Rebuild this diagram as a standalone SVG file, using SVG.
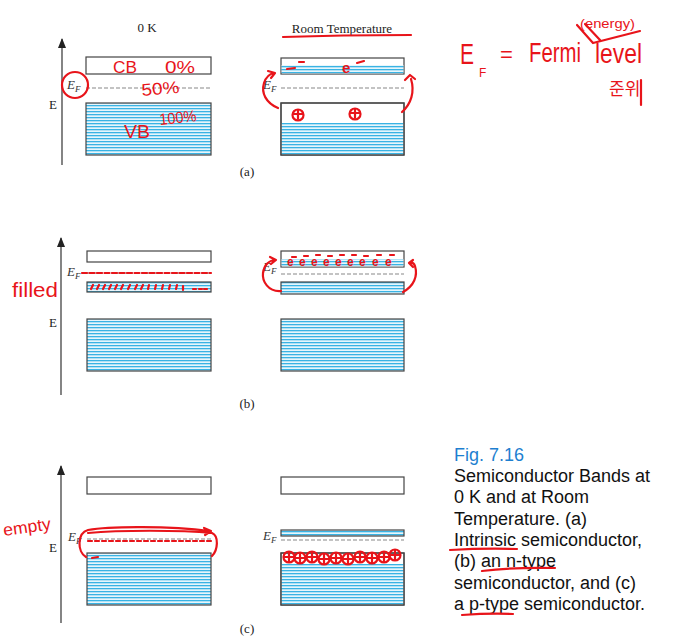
<svg xmlns="http://www.w3.org/2000/svg" width="673" height="640" viewBox="0 0 673 640">
<style>
.band{stroke:#444;stroke-width:1.2}
.empty{fill:#fff}
.fill{fill:url(#stripes)}
.ef{stroke:#888;stroke-width:1.2;stroke-dasharray:4 2;fill:none}
.axis{stroke:#333;stroke-width:1.2;fill:none}
.lbl{font-family:"Liberation Serif",serif;font-size:13px;fill:#222}
.efl{font-family:"Liberation Serif",serif;font-size:13px;font-style:italic;fill:#333}
.cap{font-family:"Liberation Sans","Noto Sans CJK KR",sans-serif;font-size:18px;fill:#111}
.red{stroke:#e8141a;stroke-width:2.2;fill:none;stroke-linecap:round;stroke-linejoin:round}
.hw{font-family:"Liberation Sans","Noto Sans CJK KR",sans-serif;fill:#e8141a}
</style>
<defs>
<pattern id="stripes" patternUnits="userSpaceOnUse" width="6" height="3">
<rect width="6" height="3" fill="#e6f6fc"/>
<rect y="0" width="6" height="1.3" fill="#39b3e4"/>
</pattern>
<marker id="up" viewBox="0 0 10 8" refX="9" refY="4" markerWidth="10" markerHeight="8" markerUnits="userSpaceOnUse" orient="auto">
<path d="M0 0 L10 4 L0 8 Z" fill="#222"/>
</marker>
</defs>
<rect width="673" height="640" fill="#fff"/>

<!-- Panel (a) -->
<g id="a-0K">
<text class="lbl" x="147" y="32" text-anchor="middle">0 K</text>
<path class="axis" d="M62 165 V39" marker-end="url(#up)"/>
<text class="lbl" x="53" y="109" text-anchor="middle">E</text>
<rect class="band empty" x="86" y="57" width="125" height="17"/>
<line class="ef" x1="86" y1="88" x2="211" y2="88"/>
<text class="efl" x="67" y="89">E<tspan font-size="9" dy="3">F</tspan></text>
<rect class="band fill" x="86" y="103" width="125" height="52"/>
</g>
<g id="a-RT">
<text class="lbl" x="342" y="33" text-anchor="middle">Room Temperature</text>
<rect class="band empty" x="281" y="58" width="123" height="16"/>
<rect x="281.6" y="65" width="121.8" height="8.4" fill="url(#stripes)"/>
<line class="ef" x1="281" y1="88" x2="404" y2="88"/>
<text class="efl" x="263" y="89">E<tspan font-size="9" dy="3">F</tspan></text>
<rect class="band empty" x="281" y="103" width="123" height="52"/>
<rect x="281.6" y="123" width="121.8" height="31.4" fill="url(#stripes)"/>
<rect class="band" x="281" y="103" width="123" height="52" fill="none"/>
</g>
<text class="lbl" x="247" y="176" text-anchor="middle" font-size="11">(a)</text>

<!-- Panel (b) -->
<g id="b-0K">
<path class="axis" d="M61 395 V238" marker-end="url(#up)"/>
<text class="lbl" x="53" y="327" text-anchor="middle">E</text>
<rect class="band empty" x="87" y="251" width="124" height="11"/>
<line class="ef" x1="87" y1="273" x2="211" y2="273"/>
<text class="efl" x="67" y="276">E<tspan font-size="9" dy="3">F</tspan></text>
<rect class="band fill" x="87" y="282" width="124" height="10"/>
<rect class="band fill" x="87" y="319" width="124" height="52"/>
</g>
<g id="b-RT">
<rect class="band empty" x="281" y="251" width="123" height="16"/>
<rect x="281.6" y="259" width="121.8" height="7.4" fill="url(#stripes)"/>
<line class="ef" x1="281" y1="274" x2="404" y2="274"/>
<text class="efl" x="263" y="271">E<tspan font-size="9" dy="3">F</tspan></text>
<rect class="band fill" x="281" y="282" width="123" height="12"/>
<rect class="band fill" x="281" y="319" width="123" height="52"/>
</g>
<text class="lbl" x="247" y="408" text-anchor="middle" font-size="11">(b)</text>

<!-- Panel (c) -->
<g id="c-0K">
<path class="axis" d="M61 623 V466" marker-end="url(#up)"/>
<text class="lbl" x="53" y="552" text-anchor="middle">E</text>
<rect class="band empty" x="87" y="477" width="124" height="17"/>
<line class="ef" x1="87" y1="539" x2="211" y2="539"/>
<text class="efl" x="68" y="541">E<tspan font-size="9" dy="3">F</tspan></text>
<rect class="band fill" x="87" y="553" width="124" height="52"/>
</g>
<g id="c-RT">
<rect class="band empty" x="281" y="477" width="123" height="17"/>
<rect class="band fill" x="281" y="530" width="123" height="6"/>
<line class="ef" x1="281" y1="540" x2="404" y2="540"/>
<text class="efl" x="263" y="540">E<tspan font-size="9" dy="3">F</tspan></text>
<rect class="band empty" x="281" y="553" width="123" height="52"/>
<rect x="281.6" y="564" width="121.8" height="40.4" fill="url(#stripes)"/>
<rect class="band" x="281" y="553" width="123" height="52" fill="none"/>
</g>
<text class="lbl" x="247" y="633" text-anchor="middle" font-size="11">(c)</text>

<!-- Caption -->
<g id="caption">
<text class="cap" x="454" y="461" style="fill:#1e7fd0">Fig. 7.16</text>
<text class="cap" x="454" y="482">Semiconductor Bands at</text>
<text class="cap" x="454" y="503">0 K and at Room</text>
<text class="cap" x="454" y="525">Temperature. (a)</text>
<text class="cap" x="454" y="546">Intrinsic semiconductor,</text>
<text class="cap" x="454" y="567">(b) an n-type</text>
<text class="cap" x="454" y="589">semiconductor, and (c)</text>
<text class="cap" x="454" y="610">a p-type semiconductor.</text>
</g>

<!-- Handwritten annotations -->
<g id="annotations">
<ellipse class="red" cx="75" cy="85" rx="13" ry="13"/>
<text class="hw" x="113" y="73" font-size="17" textLength="24" lengthAdjust="spacingAndGlyphs">CB</text>
<text class="hw" x="165" y="73" font-size="17" textLength="30" lengthAdjust="spacingAndGlyphs">0%</text>
<text class="hw" x="142" y="96" font-size="17" textLength="38" lengthAdjust="spacingAndGlyphs" transform="rotate(-5 142 96)">50%</text>
<text class="hw" x="124" y="138" font-size="19" textLength="26" lengthAdjust="spacingAndGlyphs">VB</text>
<text class="hw" x="160" y="125" font-size="16" textLength="37" lengthAdjust="spacingAndGlyphs" transform="rotate(-6 160 125)">100%</text>
<path class="red" d="M283 37 Q340 35 411 35"/>
<path class="red" d="M287 69 L295 68 M299 62 L304 62 M357 63 L364 61"/>
<text class="hw" x="342" y="73" font-size="15" font-weight="bold">e</text>
<circle class="red" cx="298" cy="115" r="5.5"/><path class="red" d="M293 114 H303 M298 110 V119" stroke-width="1.6"/>
<circle class="red" cx="355" cy="114" r="5.5"/><path class="red" d="M350 113 H360 M355 109 V118" stroke-width="1.6"/>

<text class="hw" x="12" y="297" font-size="21" textLength="46" lengthAdjust="spacingAndGlyphs">filled</text>
<path class="red" d="M82 273 H211" stroke-dasharray="5 2.5" stroke-width="1.8"/>
<path class="red" stroke-width="1.8" d="M91 289 l2 -4 M97 289 l2 -4 M103 289 l2 -4 M109 289 l2 -4 M115 289 l2 -4 M121 289 l2 -4 M128 289 l2 -4 M135 289 l2 -4 M141 289 l2 -4 M148 289 l1 -4 M155 289 l1 -4 M162 289 l1 -4 M169 289 l1 -4 M176 289 l1 -4 M183 290 l0 -4 M193 289 h3 M199 289 h3 M204 289 h3"/>
<g class="hw" font-size="12" font-weight="bold">
<text x="287" y="266">e</text><text x="299" y="266">e</text><text x="311" y="266">e</text><text x="323" y="266">e</text><text x="335" y="266">e</text><text x="347" y="266">e</text><text x="359" y="266">e</text><text x="372" y="266">e</text><text x="385" y="266">e</text>
</g>
<path class="red" stroke-width="1.5" d="M292 257 h4 M304 256 h4 M316 255 h4 M328 256 h4 M340 255 h4 M352 255 h4 M364 256 h4 M377 255 h4 M390 255 h4"/>

<text class="hw" x="4" y="536" font-size="17" textLength="48" lengthAdjust="spacingAndGlyphs" transform="rotate(-8 4 536)">empty</text>
<path class="red" stroke-width="1.6" d="M88 541 H211" stroke-dasharray="4 3"/>
<path class="red" d="M92 558 L98 557"/>
<circle class="red" cx="289" cy="557" r="5.5"/><circle class="red" cx="300" cy="558" r="5.5"/><circle class="red" cx="312" cy="557" r="5.5"/><circle class="red" cx="324" cy="559" r="5.5"/><circle class="red" cx="336" cy="558" r="5.5"/><circle class="red" cx="348" cy="559" r="5.5"/><circle class="red" cx="360" cy="557" r="5.5"/><circle class="red" cx="372" cy="558" r="5.5"/><circle class="red" cx="384" cy="557" r="5.5"/><circle class="red" cx="395" cy="555" r="5.5"/>
<path class="red" stroke-width="1.4" d="M284 557 h10 M295 558 h10 M307 557 h10 M319 559 h10 M331 558 h10 M343 559 h10 M355 557 h10 M367 558 h10 M379 557 h10 M390 555 h10 M289 552 v10 M300 553 v10 M312 552 v10 M324 554 v10 M336 553 v10 M348 554 v10 M360 552 v10 M372 553 v10 M384 552 v10 M395 550 v10"/>

<text class="hw" x="460" y="64" font-size="30" textLength="14" lengthAdjust="spacingAndGlyphs">E</text>
<text class="hw" x="479" y="77" font-size="12">F</text>
<text class="hw" x="500" y="62" font-size="22">=</text>
<text class="hw" x="529" y="62" font-size="28" textLength="52" lengthAdjust="spacingAndGlyphs">Fermi</text>
<text class="hw" x="595" y="63" font-size="28" textLength="47" lengthAdjust="spacingAndGlyphs">level</text>
<text class="hw" x="580" y="28" font-size="13" textLength="55" lengthAdjust="spacingAndGlyphs">(energy)</text>
<text class="hw" x="609" y="95" font-size="17">준위</text>
</g>

<g id="connectors">
<path class="red" d="M278 108 C266 103 261 93 264 83 C266 77 269 74 274 73 M268 71 L275 73 L271 78"/>
<path class="red" d="M402 112 C411 104 415 92 411 79 M405 80 L410 75 L415 79"/>
<path class="red" d="M281 291 C268 292 262 281 263 273 C264 265 269 260 276 260 M270 257 L276 260 L271 264"/>
<path class="red" d="M403 292 C414 286 418 276 415 266 C414 263 412 262 409 263 M413 260 L409 263 L413 267"/>
<path class="red" d="M210 531 C170 526 110 526 88 530 C77 533 77 552 86 557 M88 533 C120 530 180 530 212 533 C219 536 218 550 212 556 M204 528 L211 531 L205 535"/>
<path class="red" d="M450 550 Q485 548 517 549 M482 571 Q515 567 555 568 M462 615 Q490 613 513 614"/>
<path class="red" stroke-width="1.6" d="M577 25 L593 43 M585 24 L600 40 M593 43 L640 31"/>
<path class="red" stroke-width="2" d="M641 80 V105"/>
</g>
</svg>
